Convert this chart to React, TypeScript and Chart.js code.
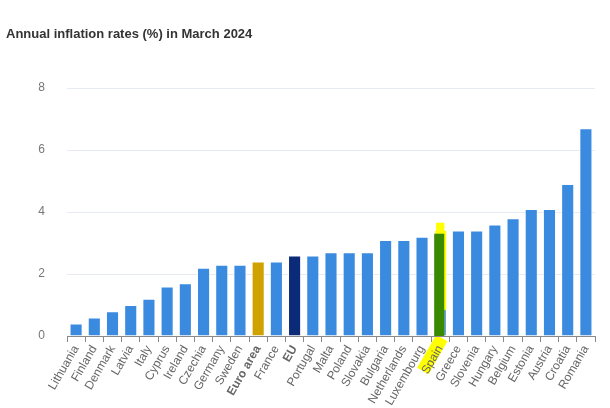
import React, { useEffect, useRef } from "react";
import { Chart, registerables } from "chart.js";
Chart.register(...registerables);

const categories = ["Lithuania","Finland","Denmark","Latvia","Italy","Cyprus","Ireland","Czechia","Germany","Sweden","Euro area","France","EU","Portugal","Malta","Poland","Slovakia","Bulgaria","Netherlands","Luxembourg","Spain","Greece","Slovenia","Hungary","Belgium","Estonia","Austria","Croatia","Romania"];
const values = [0.4,0.6,0.8,1.0,1.2,1.6,1.7,2.2,2.3,2.3,2.4,2.4,2.6,2.6,2.7,2.7,2.7,3.1,3.1,3.2,3.3,3.4,3.4,3.6,3.8,4.1,4.1,4.9,6.7];
const boldLabels = ["Euro area", "EU"];
const highlighted = "Spain";
const highlightTop = 3.65;
const yTicks = [0, 2, 4, 6, 8];

const BLUE = "#3a8be0";
const GOLD = "#cfa200";
const NAVY = "#0b2a78";

const highlighter = {
  id: "highlighter",
  beforeDraw(chart: any) {
    const idx = categories.indexOf(highlighted);
    const bar = chart.getDatasetMeta(0).data[idx];
    if (!bar) return;
    const base = chart.scales.y.getPixelForValue(0);
    const ctx = chart.ctx;
    ctx.save();
    ctx.translate(bar.x + 1, base + 4);
    ctx.rotate(-Math.PI / 3);
    ctx.fillStyle = "#ffff00";
    ctx.fillRect(-36, -7, 38, 13);
    ctx.restore();
  },
  afterDatasetsDraw(chart: any) {
    const idx = categories.indexOf(highlighted);
    const bar = chart.getDatasetMeta(0).data[idx];
    if (!bar) return;
    const y = chart.scales.y;
    const ctx = chart.ctx;
    const base = y.getPixelForValue(0);
    const top = y.getPixelForValue(highlightTop);
    ctx.save();
    ctx.fillStyle = "#ffff00";
    ctx.fillRect(bar.x - 4, top, 8, (base - top) * 0.35);
    ctx.fillRect(bar.x - 5, top + 8, 11, (base - top) * 0.7);
    ctx.fillRect(bar.x - 4, top, 8, base - top);
    ctx.fillStyle = "#3a8a00";
    ctx.fillRect(bar.x - 6, bar.y, 10, base - bar.y);
    ctx.restore();
  },
};

export default function App() {
  const ref = useRef<HTMLCanvasElement>(null);
  useEffect(() => {
    const colors = categories.map((c) => (c === "Euro area" ? GOLD : c === "EU" ? NAVY : BLUE));
    const chart = new Chart(ref.current!, {
      type: "bar",
      data: {
        labels: categories,
        datasets: [
          {
            data: values,
            backgroundColor: colors,
            borderColor: "rgba(255,255,255,0.55)",
            borderWidth: 1,
            barPercentage: 0.72,
            categoryPercentage: 1,
          },
        ],
      },
      plugins: [highlighter],
      options: {
        animation: false,
        responsive: false,
        maintainAspectRatio: false,
        layout: { padding: { top: 88, right: 15, left: 0, bottom: 0 } },
        plugins: { legend: { display: false }, tooltip: { enabled: false }, title: { display: false } },
        scales: {
          x: {
            afterFit: (s: any) => { s.height = 72; },
            grid: { display: true, drawOnChartArea: false, drawTicks: true, tickLength: 6, color: "#8a8a8a", offset: true },
            border: { display: true, color: "#8a8a8a", width: 1 },
            ticks: {
              minRotation: 60,
              maxRotation: 60,
              autoSkip: false,
              color: "#666",
              padding: 1,
              font: (ctx: any) => ({
                family: "'Liberation Sans', Arial, sans-serif",
                size: 12,
                weight: boldLabels.includes(categories[ctx.index]) ? "bold" : "normal",
              }),
            },
          },
          y: {
            min: 0,
            max: 8,
            afterFit: (s: any) => { s.width = 67; },
            afterBuildTicks: (s: any) => { s.ticks = yTicks.map((v) => ({ value: v })); },
            grid: { color: "#e6eaf3", drawTicks: false },
            border: { display: false },
            ticks: {
              color: "#777",
              padding: 22,
              font: { family: "'Liberation Sans', Arial, sans-serif", size: 12 },
            },
          },
        },
      },
    });
    return () => chart.destroy();
  }, []);
  return (
    <div style={{ position: "fixed", left: 0, top: 0, width: 610, height: 408, background: "#fff" }}>
      <div style={{ position: "absolute", left: 6, top: 26, fontFamily: "'Liberation Sans', Arial, sans-serif", fontWeight: "bold", fontSize: 13, color: "#333" }}>
        Annual inflation rates (%) in March 2024
      </div>
      <canvas ref={ref} width={610} height={408} style={{ display: "block" }} />
    </div>
  );
}
